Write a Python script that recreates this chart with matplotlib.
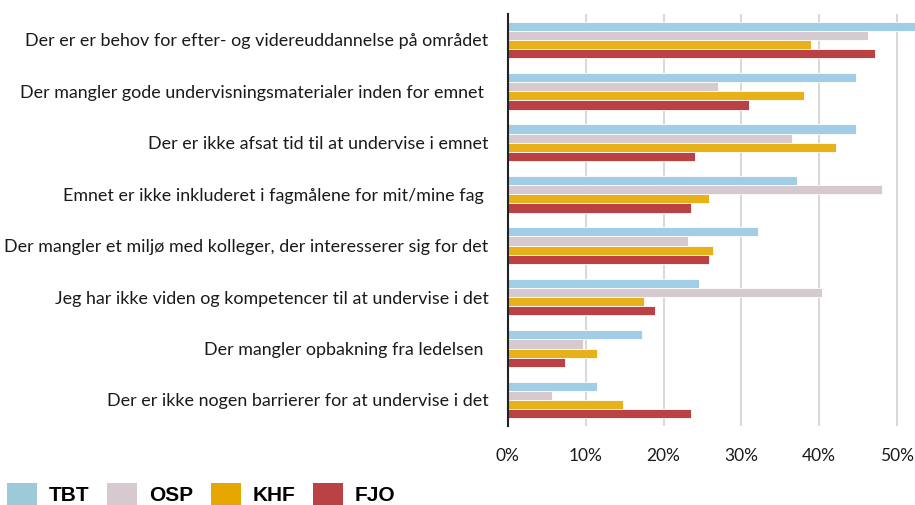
import numpy as np
import matplotlib
matplotlib.use('Agg')
import matplotlib.pyplot as plt
from matplotlib.patches import Patch
from matplotlib.ticker import FuncFormatter

# categories, top to bottom
categories = [
    'Der er er behov for efter- og videreuddannelse på området',
    'Der mangler gode undervisningsmaterialer inden for emnet ',
    'Der er ikke afsat tid til at undervise i emnet',
    'Emnet er ikke inkluderet i fagmålene for mit/mine fag ',
    'Der mangler et miljø med kolleger, der interesserer sig for det',
    'Jeg har ikke viden og kompetencer til at undervise i det',
    'Der mangler opbakning fra ledelsen ',
    'Der er ikke nogen barrierer for at undervise i det',
]
series = ['TBT', 'OSP', 'KHF', 'FJO']
tbt = [53.0, 44.7, 44.7, 37.2, 32.1, 24.5, 17.2, 11.5]
osp = [46.2, 27.0, 36.5, 48.1, 23.1, 40.4, 9.6, 5.7]
khf = [38.9, 38.0, 42.1, 25.8, 26.3, 17.5, 11.5, 14.8]
fjo = [47.2, 31.0, 24.1, 23.5, 25.8, 18.9, 7.4, 23.5]

bar_colors = ['#a2cde6', '#d6c9d0', '#e8b11a', '#ba4245']
legend_colors = ['#9dcad8', '#d6c9d0', '#e6a800', '#ba4245']

fig = plt.figure(figsize=(9.15, 5.05), dpi=100)
ax = fig.add_axes([0.555, 0.157, 0.445, 0.815])

y = np.arange(len(categories))
h = 0.178
for i, vals in enumerate([tbt, osp, khf, fjo]):
    ax.barh(y - 1.5 * h + i * h, vals, height=h, color=bar_colors[i],
            edgecolor='white', linewidth=0.6, zorder=3)

ax.set_xlim(0, 52.3)
ax.set_ylim(len(categories) - 0.5, -0.5)
ax.set_xticks([0, 10, 20, 30, 40, 50])
ax.xaxis.set_major_formatter(FuncFormatter(lambda v, p: '%d%%' % v))
ax.set_yticks(y)
ax.set_yticklabels(categories, fontfamily='Lato', fontsize=12.9, color='#1a1a1a')
ax.tick_params(axis='y', length=0, pad=14)
ax.tick_params(axis='x', length=0, pad=16, labelsize=12.5, labelcolor='#1a1a1a')
for lab in ax.get_xticklabels():
    lab.set_fontfamily('Lato')
ax.grid(axis='x', color='#d9d9d9', linewidth=1.5, zorder=0)
for s in ['top', 'right', 'bottom']:
    ax.spines[s].set_visible(False)
ax.spines['left'].set_color('#222222')
ax.spines['left'].set_linewidth(1.5)
ax.spines['left'].set_zorder(4)

handles = [Patch(facecolor=c, edgecolor='none') for c in legend_colors]
fig.legend(handles, series, loc='lower left', bbox_to_anchor=(-0.008, -0.028), ncol=4,
           frameon=False, handlelength=1.45, handleheight=1.25, handletextpad=0.55,
           columnspacing=0.85, borderaxespad=0.3,
           prop={'family': 'Liberation Sans', 'weight': 'bold', 'size': 15})

fig.savefig('out.png', dpi=100)
